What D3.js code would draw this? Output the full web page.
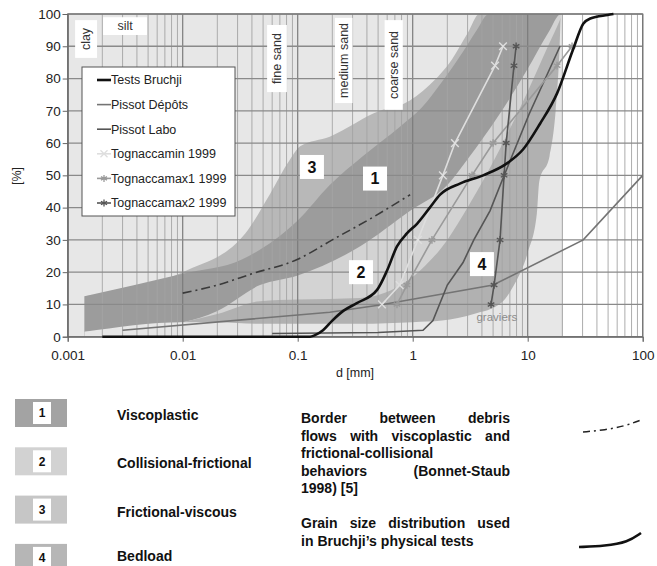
<!DOCTYPE html>
<html>
<head>
<meta charset="utf-8">
<script src="https://cdn.jsdelivr.net/npm/d3@7"></script>
<style>
body { margin: 0; background: #fff; }
svg { font-family: "Liberation Sans", Arial, Helvetica, sans-serif; }
</style>
</head>
<body>
<div id="chart"></div>
<script>
// Grain size chart, d in mm (log) against cumulative [%]

var xTicks = [0.001, 0.01, 0.1, 1, 10, 100];
var yTicks = [0, 10, 20, 30, 40, 50, 60, 70, 80, 90, 100];
var shadedLimit = 20; // grey background stops at 20 mm

// zone edges [d, %], each one rising from fine (left) to coarse (right)
var zone3Edge = [[0.0014, 12.5], [0.01, 20], [0.035, 32], [0.057, 44], [0.086, 55], [0.105, 59], [0.19, 62], [0.52, 70], [0.82, 72], [1.4, 78], [2.2, 86], [3, 94], [3.8, 100]];
var zone1Edge = [[0.0014, 12.5], [0.01, 19.5], [0.033, 24], [0.1, 36], [0.19, 47], [0.37, 56], [0.77, 65], [1.2, 71], [1.8, 79], [2.7, 88], [3.6, 95], [4.6, 100]];
var zone2Edge = [[0.0014, 1.5], [0.01, 4.5], [0.02, 8], [0.047, 16], [0.1, 19], [0.35, 28], [0.95, 39], [2, 47], [3, 55], [5.7, 69], [10, 83], [15, 94], [19.5, 100]];
var zone4Edge = [[0.0014, 1.5], [0.01, 4.5], [0.02, 7], [0.047, 11], [0.1, 11.5], [0.35, 12], [0.7, 15], [1.2, 21], [2, 30], [3, 40], [5.7, 58], [10, 76], [15, 90], [19.5, 99]];
var floorEdge = [[0.0014, 1.5], [0.01, 4.5], [0.02, 4.5], [0.047, 4], [0.35, 4], [1, 4.5], [1.8, 5], [3.4, 7], [5.9, 10.5], [7.5, 15.6], [10, 26], [12, 38], [12.6, 48], [15.5, 56], [17.5, 70], [19, 90], [19.5, 100]];

// measured curves
var testsBruchji = [[0.002, 0], [0.128, 0], [0.14, 0.4], [0.166, 2], [0.2, 5], [0.249, 8], [0.327, 10.4], [0.49, 14.5], [0.6, 20.6], [0.73, 28], [0.89, 32], [1.09, 35], [1.41, 40], [1.73, 44], [2.6, 47.5], [4.1, 50], [6.6, 53.7], [9.1, 58], [12.8, 66], [18, 75.4], [24.8, 89], [30.4, 97], [35, 98.6], [49.5, 99.7], [55.7, 100]];
var pissotDepots = [[0.003, 2], [0.19, 7.6], [0.52, 9.8], [5, 16], [30.4, 30], [100, 50]];
var pissotLabo = [[0.06, 1], [0.5, 1.3], [1.23, 2], [1.5, 5], [2, 16], [2.74, 23], [3.4, 30], [4.7, 39], [6, 48.5], [10.3, 69], [19.1, 90]];
var tognMin = [[0.54, 10], [0.77, 16], [1.11, 30], [1.83, 50], [2.33, 60], [5.2, 84], [6.1, 90]];
var tognMax1 = [[0.73, 10], [0.89, 16], [1.47, 30], [3.28, 50], [5.0, 60], [18, 84], [24.3, 90]];
var tognMax2 = [[4.8, 10], [5.1, 16], [5.75, 30], [6.23, 50], [6.5, 60], [7.6, 84], [7.93, 90]];
var borderLine = [[0.01, 13.5], [0.02, 16], [0.04, 19.5], [0.1, 24], [0.2, 30], [0.45, 37], [0.95, 44]];

var legendNames = ["Tests Bruchji", "Pissot Dépôts", "Pissot Labo", "Tognaccamin 1999", "Tognaccamax1 1999", "Tognaccamax2 1999"];
var zoneNumbers = ["1", "2", "3", "4"];
var zoneNames = ["Viscoplastic", "Collisional-frictional", "Frictional-viscous", "Bedload"];
var zoneLabelAt = [[0.47, 49], [0.355, 20], [0.133, 52.6], [4.0, 22.5]];
var soilClasses = ["clay", "silt", "fine sand", "medium sand", "coarse sand"];
var soilBoxes = [[0.00116, 0.0018, 86.4, 98.1], [0.00203, 0.00489, 93.5, 99], [0.0542, 0.0805, 75.8, 96.6], [0.211, 0.30, 72.4, 98.8], [0.57, 0.82, 70.3, 98.1]];

var zoneFill = { "1": "#9c9c9c", "2": "#d3d3d3", "3": "#b8b8b8", "4": "#b1b1b1" };
var swatchFill = { "1": "#a3a3a3", "2": "#d2d2d2", "3": "#c6c6c6", "4": "#b6b6b6" };
var bgGrey = "#e7e7e7";

var svgWidth = 657, svgHeight = 566;
var svg = d3.select("#chart").append("svg")
    .attr("width", svgWidth)
    .attr("height", svgHeight);

var x = d3.scaleLog().domain([0.001, 100]).range([67.7, 642.7]);
var y = d3.scaleLinear().domain([0, 100]).range([336.7, 14]);

// plot background
svg.append("rect")
    .attr("x", x(0.001)).attr("y", y(100))
    .attr("width", x(100) - x(0.001)).attr("height", y(0) - y(100))
    .attr("fill", "#fff");
svg.append("rect")
    .attr("x", x(0.001)).attr("y", y(100))
    .attr("width", x(shadedLimit) - x(0.001)).attr("height", y(0) - y(100))
    .attr("fill", bgGrey);

// zones, stacked: each fills everything below/right of its edge
var zoneArea = d3.area()
    .x(d => x(d[0]))
    .y0(y(0))
    .y1(d => y(d[1]))
    .curve(d3.curveMonotoneX);

var layers = [[zone3Edge, zoneFill["3"]], [zone1Edge, zoneFill["1"]], [zone2Edge, zoneFill["2"]], [zone4Edge, zoneFill["4"]], [floorEdge, bgGrey]];
layers.forEach(function(l) {
    svg.append("path")
        .datum(l[0].concat([[shadedLimit, 100]]))
        .attr("d", zoneArea)
        .attr("fill", l[1]);
});

// grid
var gridX = [];
d3.range(-3, 2).forEach(function(k) {
    d3.range(1, 10).forEach(function(m) { gridX.push(m * Math.pow(10, k)); });
});
gridX.push(100);

svg.append("g").selectAll("line")
    .data(gridX)
    .enter().append("line")
    .attr("x1", d => x(d)).attr("x2", d => x(d))
    .attr("y1", y(0)).attr("y2", y(100))
    .attr("stroke", d => xTicks.indexOf(d) >= 0 ? "#7c7c7c" : "#a4a4a4")
    .attr("stroke-width", d => xTicks.indexOf(d) >= 0 ? 1.2 : 0.9);

svg.append("g").selectAll("line")
    .data(yTicks)
    .enter().append("line")
    .attr("x1", x(0.001)).attr("x2", x(100))
    .attr("y1", d => y(d)).attr("y2", d => y(d))
    .attr("stroke", "#8a8a8a")
    .attr("stroke-width", 1.3);

svg.append("rect")
    .attr("x", x(0.001)).attr("y", y(100))
    .attr("width", x(100) - x(0.001)).attr("height", y(0) - y(100))
    .attr("fill", "none").attr("stroke", "#777").attr("stroke-width", 1.2);

// axes
var yAxis = d3.axisLeft(y).tickValues(yTicks).tickSize(5).tickPadding(2);
var xAxis = d3.axisBottom(x).tickValues(xTicks).tickSize(5).tickPadding(9)
    .tickFormat(d3.format("~g"));

var gy = svg.append("g").attr("transform", `translate(${x(0.001)},0)`).call(yAxis);
var gx = svg.append("g").attr("transform", `translate(0,${y(0)})`).call(xAxis);
[gx, gy].forEach(function(g) {
    g.select(".domain").attr("stroke", "#666");
    g.selectAll(".tick line").attr("stroke", "#666");
    g.selectAll(".tick text")
        .attr("fill", "#222")
        .style("font-size", "13.5px")
        .style("font-family", "'Liberation Sans', Arial, sans-serif");
});

svg.append("text")
    .attr("transform", "translate(21,176) rotate(-90)")
    .attr("text-anchor", "middle")
    .style("font-size", "12.5px")
    .attr("fill", "#222")
    .text("[%]");

svg.append("text")
    .attr("x", 355).attr("y", 377)
    .attr("text-anchor", "middle")
    .style("font-size", "12.5px")
    .attr("fill", "#222")
    .text("d [mm]");

// curves
var line = d3.line().x(d => x(d[0])).y(d => y(d[1]));
var smooth = d3.line().x(d => x(d[0])).y(d => y(d[1])).curve(d3.curveMonotoneX);

svg.append("path").datum(borderLine)
    .attr("d", smooth)
    .attr("fill", "none").attr("stroke", "#3a3a3a").attr("stroke-width", 1.6)
    .attr("stroke-dasharray", "9,4,2,4");

var series = [
    { data: testsBruchji, color: "#111", width: 2.6, gen: smooth, marker: null },
    { data: pissotDepots, color: "#747474", width: 1.6, gen: line, marker: null },
    { data: pissotLabo, color: "#555", width: 1.6, gen: line, marker: null },
    { data: tognMin, color: "#dedede", width: 1.6, gen: line, marker: d3.symbolTimes },
    { data: tognMax1, color: "#9a9a9a", width: 1.6, gen: line, marker: d3.symbolAsterisk },
    { data: tognMax2, color: "#555", width: 1.6, gen: line, marker: d3.symbolAsterisk }
];

// draw thin ones first, the black test curve last
[1, 2, 3, 4, 5, 0].forEach(function(i) {
    var s = series[i];
    svg.append("path").datum(s.data)
        .attr("d", s.gen)
        .attr("fill", "none")
        .attr("stroke", s.color)
        .attr("stroke-width", s.width);
    if (s.marker) {
        svg.append("g").selectAll("path")
            .data(s.data)
            .enter().append("path")
            .attr("transform", d => `translate(${x(d[0])},${y(d[1])})`)
            .attr("d", d3.symbol().type(s.marker).size(40))
            .attr("fill", "none")
            .attr("stroke", s.color)
            .attr("stroke-width", 1.4);
    }
});

svg.append("text")
    .attr("x", x(5.4)).attr("y", y(4.9))
    .attr("text-anchor", "middle")
    .style("font-size", "11.5px")
    .attr("fill", "#8c8c8c")
    .text("graviers");

// soil class boxes
soilClasses.forEach(function(name, i) {
    var b = soilBoxes[i];
    var x0 = x(b[0]), x1 = x(b[1]), y0 = y(b[3]), y1 = y(b[2]);
    svg.append("rect")
        .attr("x", x0).attr("y", y0)
        .attr("width", x1 - x0).attr("height", y1 - y0)
        .attr("fill", "#fff");
    var cx = (x0 + x1) / 2, cy = (y0 + y1) / 2;
    var t = svg.append("text")
        .attr("text-anchor", "middle")
        .attr("dy", "0.35em")
        .style("font-size", "12.5px")
        .attr("fill", "#333")
        .text(name);
    if (name === "silt") t.attr("x", cx).attr("y", cy);
    else t.attr("transform", `translate(${cx},${cy}) rotate(-90)`);
});

// zone number boxes
zoneNumbers.forEach(function(n, i) {
    var p = zoneLabelAt[i];
    svg.append("rect")
        .attr("x", x(p[0]) - 12).attr("y", y(p[1]) - 12)
        .attr("width", 24).attr("height", 24)
        .attr("fill", "#fff");
    svg.append("text")
        .attr("x", x(p[0])).attr("y", y(p[1]))
        .attr("dy", "0.36em")
        .attr("text-anchor", "middle")
        .style("font-size", "16px").style("font-weight", "bold")
        .attr("fill", "#111")
        .text(n);
});

// legend inside the plot
var legend = svg.append("g").attr("transform", "translate(82,67)");
legend.append("rect")
    .attr("width", 153).attr("height", 149)
    .attr("fill", "#fff").attr("stroke", "#555").attr("stroke-width", 1);
legendNames.forEach(function(name, i) {
    var s = series[i];
    var ly = 13 + i * 24.6;
    legend.append("line")
        .attr("x1", 15).attr("x2", 29).attr("y1", ly).attr("y2", ly)
        .attr("stroke", s.color).attr("stroke-width", s.width);
    if (s.marker) {
        legend.append("path")
            .attr("transform", `translate(22,${ly})`)
            .attr("d", d3.symbol().type(s.marker).size(34))
            .attr("fill", "none").attr("stroke", s.color).attr("stroke-width", 1.3);
    }
    legend.append("text")
        .attr("x", 29).attr("y", ly).attr("dy", "0.35em")
        .style("font-size", "12.5px")
        .attr("fill", "#222")
        .text(name);
});

// legend of zones under the chart
zoneNumbers.forEach(function(n, i) {
    var top = 399 + i * 48.3;
    svg.append("rect")
        .attr("x", 15).attr("y", top).attr("width", 52).attr("height", 28)
        .attr("fill", swatchFill[n]);
    svg.append("rect")
        .attr("x", 33).attr("y", top + 3).attr("width", 18).attr("height", 22)
        .attr("fill", "#fff");
    svg.append("text")
        .attr("x", 42).attr("y", top + 14).attr("dy", "0.36em")
        .attr("text-anchor", "middle")
        .style("font-size", "12px").style("font-weight", "bold")
        .attr("fill", "#111")
        .text(n);
    svg.append("text")
        .attr("x", 117).attr("y", Math.min(top + 21, 561))
        .style("font-size", "14px").style("font-weight", "bold")
        .attr("fill", "#111")
        .text(zoneNames[i]);
});

// justified notes
var noteLines = [
    [["Border", "between", "debris"], true],
    [["flows", "with", "viscoplastic", "and"], true],
    [["frictional-collisional"], false],
    [["behaviors", "(Bonnet-Staub"], true],
    [["1998)", "[5]"], false],
    [["Grain", "size", "distribution", "used"], true],
    [["in", "Bruchji’s", "physical", "tests"], false]
];
var noteBase = [423, 441, 458, 476, 493, 528, 546];
var notes = svg.append("g")
    .style("font-size", "14px").style("font-weight", "bold")
    .attr("fill", "#111");
noteLines.forEach(function(l, i) {
    var words = l[0];
    var texts = words.map(w => notes.append("text").attr("y", noteBase[i]).text(w));
    var widths = texts.map(t => t.node().getComputedTextLength());
    var gap = (l[1] && words.length > 1) ? (510 - 301 - d3.sum(widths)) / (words.length - 1) : 4;
    var cx = 301;
    texts.forEach(function(t, j) { t.attr("x", cx); cx += widths[j] + gap; });
});

// line samples next to the notes
var sample = d3.line().curve(d3.curveBasis);
svg.append("path")
    .attr("d", sample([[583, 432], [605, 430], [625, 426], [641, 420]]))
    .attr("fill", "none").attr("stroke", "#222").attr("stroke-width", 1.5)
    .attr("stroke-dasharray", "7,4,2,4");
svg.append("path")
    .attr("d", sample([[579, 547], [605, 546], [628, 542], [641, 533]]))
    .attr("fill", "none").attr("stroke", "#111").attr("stroke-width", 2.6);
</script>
</body>
</html>
